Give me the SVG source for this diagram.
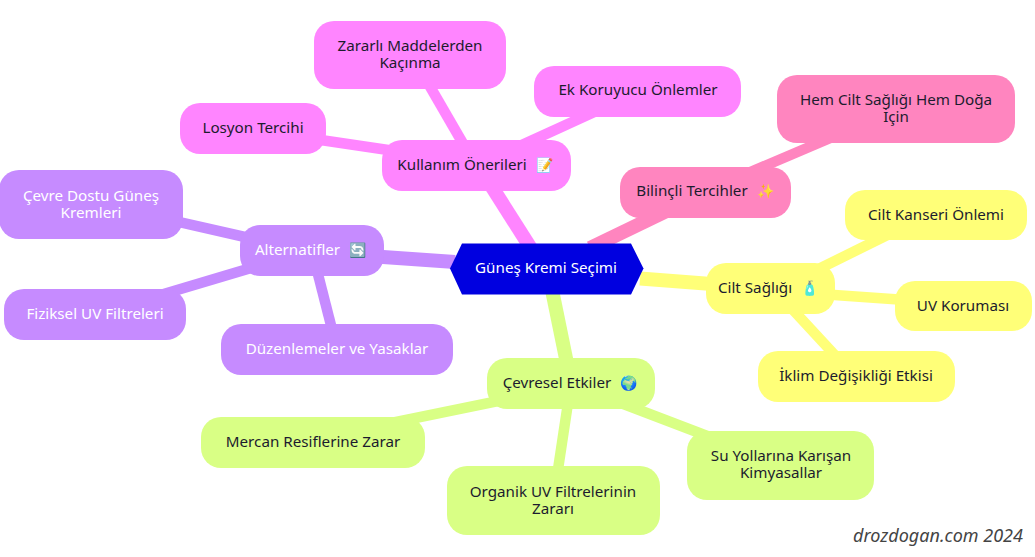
<svg xmlns="http://www.w3.org/2000/svg" width="1035" height="557" viewBox="0 0 1035 557">
<style>
text{font-family:"Noto Sans","Open Sans","DejaVu Sans",sans-serif;font-size:15.2px;text-anchor:middle;fill:#1c1c2e}
.w{fill:#fff}
.e{font-size:14px}
.m{stroke-width:14}
.s{stroke-width:10.5}
.p{stroke:#ff85ff}.k{stroke:#ff85bf}.y{stroke:#ffff78}.l{stroke:#d9ff85}.v{stroke:#c68bff}
.fp{fill:#ff85ff}.fk{fill:#ff85bf}.fy{fill:#ffff78}.fl{fill:#d9ff85}.fv{fill:#c68bff}
</style>
<rect width="1035" height="557" fill="#fff"/>
<g id="connectors" fill="none">
<path class="m p" d="M532 250 L478 165"/>
<path class="m k" d="M590 248 L706 192"/>
<path class="m y" d="M640 278.500 L770 288.500"/>
<path class="m l" d="M552 290 L571 383"/>
<path class="m v" d="M455 262 L311 252"/>
<path class="s p" d="M476 166 L410 52"/>
<path class="s p" d="M476 166 L638 92"/>
<path class="s p" d="M476 163 L253 130"/>
<path class="s k" d="M706 191 L896 110"/>
<path class="s y" d="M770 293 L936 211"/>
<path class="s y" d="M770 290.600 L963 304"/>
<path class="s y" d="M770 285 L856 378"/>
<path class="s l" d="M571 386 L313 439"/>
<path class="s l" d="M571 383 L553.400 500"/>
<path class="s l" d="M571 384 L781 464"/>
<path class="s v" d="M311 252 L91 202"/>
<path class="s v" d="M311 250 L95 314.500"/>
<path class="s v" d="M311.800 250 L337.300 350"/>
</g>
<g id="root"><polygon points="450,268.500 462,243.500 631,243.500 643.500,268.500 631,294.500 462,294.500" fill="#0000e0"/><text class="w" x="546" y="273">Güneş Kremi Seçimi</text></g>
<g id="n1"><rect class="fp" x="382" y="140" width="189" height="51" rx="20"/><text x="475" y="170">Kullanım Önerileri<tspan class="e" dx="9">📝</tspan></text></g>
<g id="n2"><rect class="fp" x="314" y="21" width="192" height="68" rx="20"/><text x="410" y="51">Zararlı Maddelerden<tspan x="410" dy="17">Kaçınma</tspan></text></g>
<g id="n3"><rect class="fp" x="534" y="66" width="207" height="51" rx="20"/><text x="638" y="95">Ek Koruyucu Önlemler</text></g>
<g id="n4"><rect class="fp" x="180" y="103" width="146" height="51" rx="20"/><text x="253" y="133">Losyon Tercihi</text></g>
<g id="n5"><rect class="fk" x="620" y="167" width="171" height="51" rx="20"/><text x="705" y="196">Bilinçli Tercihler<tspan class="e" dx="9">✨</tspan></text></g>
<g id="n6"><rect class="fk" x="777" y="75" width="238" height="68" rx="20"/><text x="896" y="105">Hem Cilt Sağlığı Hem Doğa<tspan x="896" dy="17">İçin</tspan></text></g>
<g id="n7"><rect class="fy" x="706" y="263" width="129" height="51" rx="20"/><text x="768" y="293">Cilt Sağlığı<tspan class="e" dx="9">🧴</tspan></text></g>
<g id="n8"><rect class="fy" x="845" y="190" width="182" height="50" rx="20"/><text x="936" y="220">Cilt Kanseri Önlemi</text></g>
<g id="n9"><rect class="fy" x="895" y="281" width="137" height="50" rx="20"/><text x="963" y="311">UV Koruması</text></g>
<g id="n10"><rect class="fy" x="758" y="351" width="197" height="51" rx="20"/><text x="856" y="381">İklim Değişikliği Etkisi</text></g>
<g id="n11"><rect class="fl" x="487" y="358" width="168" height="51" rx="20"/><text x="570" y="388">Çevresel Etkiler<tspan class="e" dx="9">🌍</tspan></text></g>
<g id="n12"><rect class="fl" x="201" y="417" width="224" height="51" rx="20"/><text x="313" y="447">Mercan Resiflerine Zarar</text></g>
<g id="n13"><rect class="fl" x="447" y="466" width="213" height="69" rx="20"/><text x="553" y="497">Organik UV Filtrelerinin<tspan x="553" dy="17">Zararı</tspan></text></g>
<g id="n14"><rect class="fl" x="687" y="431" width="187" height="69" rx="20"/><text x="781" y="461">Su Yollarına Karışan<tspan x="781" dy="17">Kimyasallar</tspan></text></g>
<g id="n15"><rect class="fv" x="240" y="225" width="144" height="51" rx="20"/><text class="w" x="310.500" y="255">Alternatifler<tspan class="e" dx="9">🔄</tspan></text></g>
<g id="n16"><rect class="fv" x="-1" y="170" width="184" height="69" rx="20"/><text class="w" x="91" y="201">Çevre Dostu Güneş<tspan x="91" dy="17">Kremleri</tspan></text></g>
<g id="n17"><rect class="fv" x="4" y="289" width="182" height="51" rx="20"/><text class="w" x="95" y="319">Fiziksel UV Filtreleri</text></g>
<g id="n18"><rect class="fv" x="221" y="324" width="232" height="51" rx="20"/><text class="w" x="337" y="354">Düzenlemeler ve Yasaklar</text></g>
<text x="938" y="542" style="font-size:18px;font-style:italic;fill:#444">drozdogan.com 2024</text>
</svg>
